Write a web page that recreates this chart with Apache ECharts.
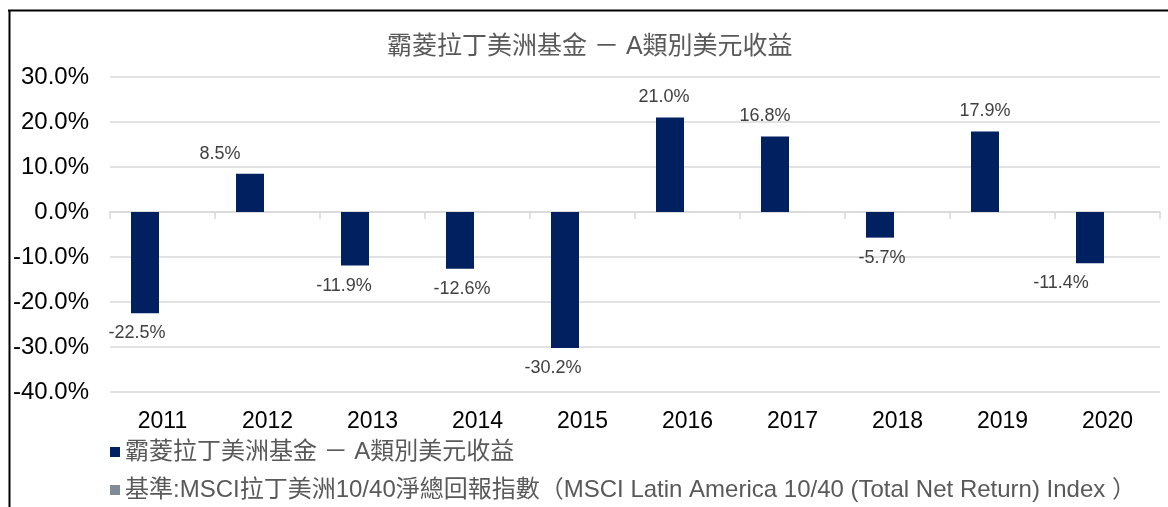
<!DOCTYPE html>
<html>
<head>
<meta charset="utf-8">
<script src="https://cdn.jsdelivr.net/npm/echarts@6/dist/echarts.min.js"></script>
<style>
  html, body { margin: 0; padding: 0; background: #fff; }
  #bar { width: 1168px; height: 507px; }
</style>
</head>
<body>
<div id="bar"></div>
<script>
(function () {
    // 年度及收益（%）
    const years = ['2011', '2012', '2013', '2014', '2015', '2016', '2017', '2018', '2019', '2020'];
    const fundReturns = [-22.5, 8.5, -11.9, -12.6, -30.2, 21.0, 16.8, -5.7, 17.9, -11.4];
    const benchReturns = [null, null, null, null, null, null, null, null, null, null];
    const yTicks = [-40, -30, -20, -10, 0, 10, 20, 30];

    const fundName = '霸菱拉丁美洲基金 － A類別美元收益';
    const benchName = '基準:MSCI拉丁美洲10/40淨總回報指數（MSCI Latin America 10/40 (Total Net Return) Index ）';

    // 標籤水平微調（原圖標籤並非都置中）
    const labelNudgeX = [-8, -30, -11, 2, -12, -6, -10, 2, 0, -29];

    const font = "'Liberation Sans', 'Noto Sans CJK TC', sans-serif";
    let bar = echarts.init(document.getElementById('bar'));

    let option = {
        backgroundColor: '#fff',
        animation: false,
        title: {
            text: fundName,
            left: 387,
            top: 35,
            padding: 0,
            textStyle: {
                color: '#595959',
                fontSize: 25,
                fontWeight: 'normal',
                fontFamily: font
            }
        },
        legend: {
            orient: 'vertical',
            left: 110,
            top: 440,
            padding: 0,
            itemGap: 14,
            itemWidth: 10,
            itemHeight: 10,
            icon: 'rect',
            data: [fundName, benchName],
            textStyle: {
                color: '#595959',
                fontSize: 24,
                fontFamily: font
            }
        },
        grid: {
            left: 110,
            right: 8,
            top: 77,
            bottom: 115
        },
        xAxis: [
            {
                type: 'category',
                data: years,
                axisLine: {onZero: true, lineStyle: {color: '#d9d9d9', width: 1.5}},
                axisTick: {show: true, length: 7, lineStyle: {color: '#d9d9d9', width: 1.5}},
                axisLabel: {show: false}
            },
            {
                type: 'category',
                data: years,
                position: 'bottom',
                axisLine: {show: false, onZero: false},
                axisTick: {show: false},
                axisLabel: {
                    color: '#000',
                    fontSize: 23,
                    fontFamily: font,
                    margin: 18
                }
            }
        ],
        yAxis: {
            type: 'value',
            min: yTicks[0],
            max: yTicks[yTicks.length - 1],
            interval: 10,
            axisLine: {show: false},
            axisTick: {show: false},
            splitLine: {lineStyle: {color: '#d9d9d9', width: 1.5}},
            axisLabel: {
                color: '#000',
                fontSize: 24,
                fontFamily: font,
                margin: 21,
                formatter: function (v) {
                    return v.toFixed(1) + '%';
                }
            }
        },
        series: [
            {
                name: fundName,
                type: 'bar',
                xAxisIndex: 0,
                barWidth: 28,
                barGap: '25%',
                itemStyle: {color: '#002060'},
                data: fundReturns.map(function (v, i) {
                    return {
                        value: v,
                        label: {
                            position: v >= 0 ? 'top' : 'bottom',
                            offset: [labelNudgeX[i], 0]
                        }
                    };
                }),
                label: {
                    show: true,
                    distance: 11,
                    color: '#404040',
                    fontSize: 18,
                    fontFamily: font,
                    formatter: function (p) {
                        return p.value.toFixed(1) + '%';
                    }
                }
            },
            {
                name: benchName,
                type: 'bar',
                xAxisIndex: 0,
                barWidth: 28,
                itemStyle: {color: '#7f8b97'},
                data: benchReturns
            }
        ],
        graphic: [
            {
                type: 'line',
                shape: {x1: 8, y1: 10.5, x2: 1168, y2: 10.5},
                style: {stroke: '#000', lineWidth: 2}
            },
            {
                type: 'line',
                shape: {x1: 9.5, y1: 10, x2: 9.5, y2: 507},
                style: {stroke: '#000', lineWidth: 2}
            }
        ]
    };

    bar.setOption(option);
})();
</script>
</body>
</html>
